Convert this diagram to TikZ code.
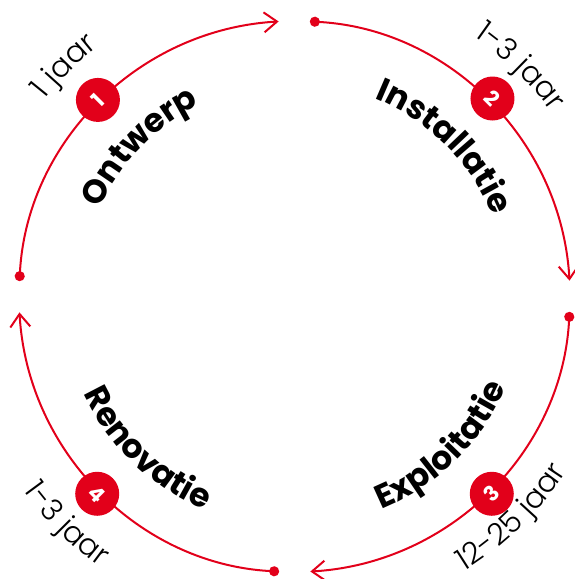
\documentclass[tikz,border=0pt]{standalone}
\usepackage{fontspec}
\setmainfont{Poppins}
\newfontfamily\thinfont{Poppins Light}
\usetikzlibrary{arrows.meta,decorations.text}
\definecolor{ered}{RGB}{226,0,26}
\newcommand{\phasefont}{\bfseries\fontsize{33}{33}\selectfont}
\newcommand{\yearfont}{\thinfont\fontsize{30}{30}\selectfont}
\begin{document}
\begin{tikzpicture}[x=1pt, y=1pt,
		cycleline/.style = {ered, line width=2pt, {Circle[length=10pt]}-{Straight Barb[length=13pt,width=20pt]}},
		badge/.style = {circle, fill=ered, text=white, minimum size=44pt, inner sep=0pt, font=\bfseries\fontsize{21}{21}\selectfont},
		arctext/.style = {decorate, decoration={text along path, text align=center, text={#1}}}]
		\useasboundingbox (-294.5,-282.5) rectangle (280.5,296.5);
		% de vier fasen als bogen
		\draw [cycleline] (176.8:275.5pt) arc [start angle=176.8, end angle=93.3, radius=275.5pt];
		\draw [cycleline] (86.8:275.5pt) arc [start angle=86.8, end angle=3.3, radius=275.5pt];
		\draw [cycleline] (-3.2:275.5pt) arc [start angle=-3.2, end angle=-86.7, radius=275.5pt];
		\draw [cycleline] (-93.2:275.5pt) arc [start angle=-93.2, end angle=-176.7, radius=275.5pt];
		% nummers
		\node [badge, rotate=45] (b1) at (135:278pt) {1};
		\node [badge, rotate=-45] (b2) at (45:280pt) {2};
		\node [badge, rotate=45] (b3) at (-45:279pt) {3};
		\node [badge, rotate=-45] (b4) at (-135:279pt) {4};
		% namen van de fasen
		\path [arctext={|\phasefont|Ontwerp}] (182:214pt) arc [start angle=182, end angle=90, radius=214pt];
		\path [arctext={|\phasefont|Installatie}] (90:214pt) arc [start angle=90, end angle=0, radius=214pt];
		\path [arctext={|\phasefont|Exploitatie}] (-91:230pt) arc [start angle=-91, end angle=0, radius=230pt];
		\path [arctext={|\phasefont|Renovatie}] (180:232pt) arc [start angle=180, end angle=272, radius=232pt];
		% duur
		\path [arctext={|\yearfont|1 jaar}] (180:318pt) arc [start angle=180, end angle=90, radius=318pt];
		\path [arctext={|\yearfont|1-3 jaar}] (91:316pt) arc [start angle=91, end angle=0, radius=316pt];
		\path [arctext={|\yearfont|12-25 jaar}] (-91:323pt) arc [start angle=-91, end angle=0, radius=323pt];
		\path [arctext={|\yearfont|1-3 jaar}] (180:333pt) arc [start angle=180, end angle=270, radius=333pt];
		%\draw (0,0) circle (275.5pt);
	\end{tikzpicture}
\end{document}
